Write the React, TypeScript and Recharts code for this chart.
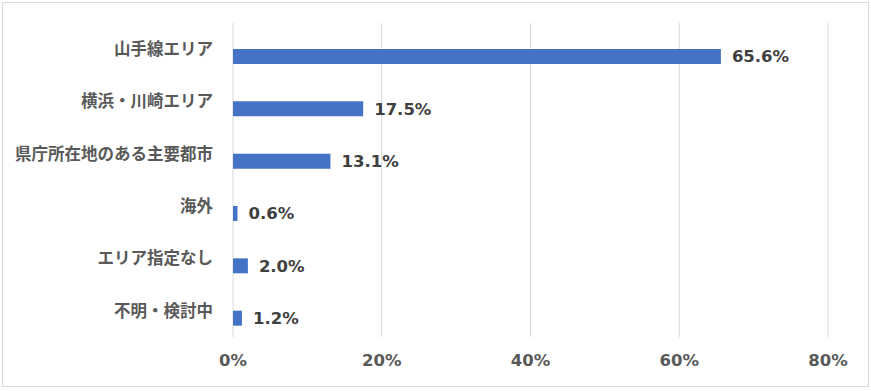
import { Bar, BarChart, CartesianGrid, LabelList, XAxis, YAxis } from "recharts";

const categories = [
  "山手線エリア",
  "横浜・川崎エリア",
  "県庁所在地のある主要都市",
  "海外",
  "エリア指定なし",
  "不明・検討中",
];
const shares = [65.6, 17.5, 13.1, 0.6, 2.0, 1.2];
const xTicks = [0, 20, 40, 60, 80];

const JP_FONT = '"Noto Sans CJK JP", "Noto Sans", sans-serif';
const NUM_FONT = '"DejaVu Sans", "Noto Sans CJK JP", sans-serif';

export default function App() {
  const data = categories.map((name, i) => ({ name, share: shares[i] }));

  return (
    <div style={{ position: "absolute", left: 0, top: 0, width: 871, height: 391, background: "#fff" }}>
      <div
        style={{
          position: "absolute",
          left: 2,
          top: 2,
          width: 867,
          height: 385,
          border: "1px solid #d9d9d9",
          boxSizing: "border-box",
        }}
      />
      <BarChart
        width={871}
        height={391}
        data={data}
        layout="vertical"
        margin={{ top: 23, right: 43, bottom: 14, left: 0 }}
        barSize={15}
        barGap={0}
        style={{ position: "absolute", left: 0, top: 0, fontFamily: JP_FONT }}
      >
        <CartesianGrid horizontal={false} stroke="#d9d9d9" />
        <XAxis
          type="number"
          domain={[0, 80]}
          ticks={xTicks}
          tickFormatter={(v: number) => `${v}%`}
          axisLine={false}
          tickLine={false}
          tickSize={0}
          tickMargin={17}
          height={40}
          tick={{ fill: "#595959", fontSize: 16.5, fontWeight: 700, fontFamily: NUM_FONT }}
        />
        <YAxis
          type="category"
          dataKey="name"
          width={233}
          axisLine={false}
          tickLine={false}
          tickSize={0}
          tickMargin={20}
          tick={{ fill: "#595959", fontSize: 16.5, fontWeight: 700, fontFamily: JP_FONT }}
        />
        <Bar dataKey="blank" fill="#ed7d31" isAnimationActive={false} />
        <Bar dataKey="share" fill="#4472c4" isAnimationActive={false}>
          <LabelList
            dataKey="share"
            position="right"
            offset={11}
            formatter={(v: number) => `${v.toFixed(1)}%`}
            style={{ fill: "#404040", fontSize: 16.5, fontWeight: 700, fontFamily: NUM_FONT }}
          />
        </Bar>
      </BarChart>
    </div>
  );
}
